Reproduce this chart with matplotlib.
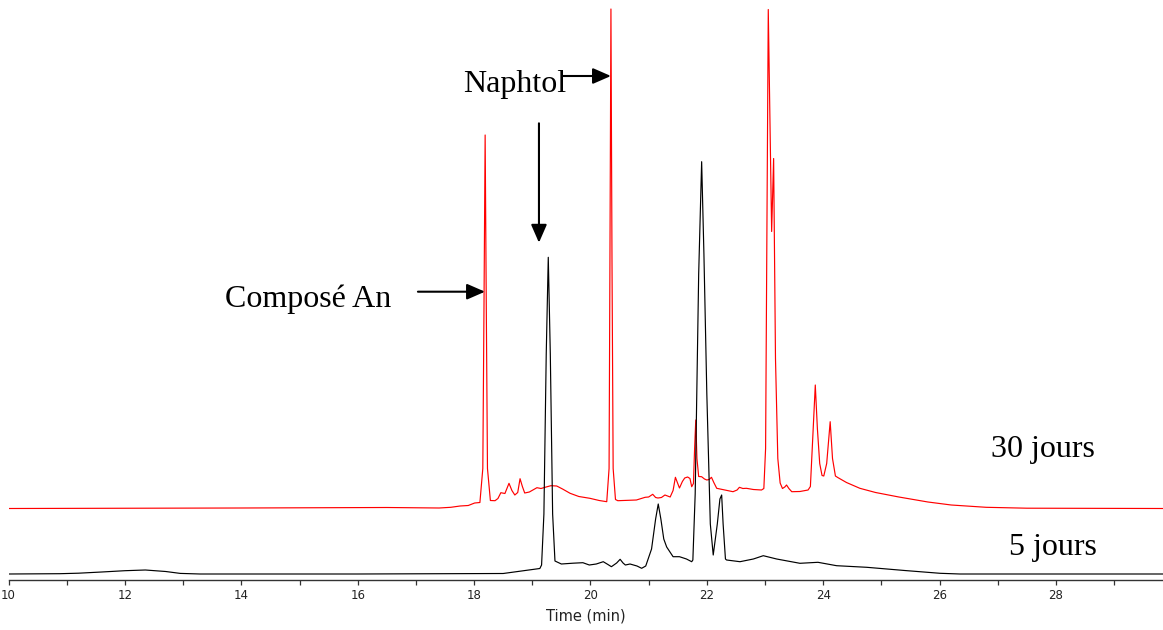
import matplotlib
matplotlib.use("Agg")
import matplotlib.pyplot as plt

# ---------------- data ----------------
# 30 jours (red trace): retention time (min) and signal (a.u.)
t_30 = [10.00, 14.00, 16.50, 17.40, 17.60, 17.76, 17.90, 18.01, 18.10, 18.15,
        18.17, 18.19, 18.21, 18.23, 18.28, 18.36, 18.41, 18.46, 18.53, 18.60,
        18.65, 18.70, 18.75, 18.79, 18.83, 18.87, 18.95, 19.08, 19.15, 19.22,
        19.32, 19.42, 19.52, 19.65, 19.80, 19.99, 20.15, 20.28, 20.32, 20.335,
        20.352, 20.37, 20.39, 20.43, 20.47, 20.79, 20.94, 21.00, 21.07, 21.12,
        21.16, 21.22, 21.28, 21.37, 21.42, 21.46, 21.50, 21.53, 21.58, 21.62,
        21.67, 21.71, 21.74, 21.77, 21.79, 21.81, 21.83, 21.86, 21.91, 21.96,
        22.00, 22.04, 22.08, 22.12, 22.17, 22.31, 22.45, 22.52, 22.56, 22.62,
        22.68, 22.80, 22.94, 22.98, 23.01, 23.035, 23.056, 23.10, 23.114, 23.148,
        23.18, 23.22, 23.26, 23.30, 23.34, 23.37, 23.41, 23.46, 23.60, 23.74,
        23.78, 23.82, 23.864, 23.90, 23.94, 23.98, 24.01, 24.06, 24.12, 24.16,
        24.21, 24.25, 24.40, 24.63, 24.90, 25.30, 25.80, 26.20, 26.80, 27.50,
        29.84]
s_30 = [0.0, 0.5, 1.0, 0.5, 1.2, 2.5, 3.0, 5.5, 6.0, 40.0,
        200.0, 373.5, 200.0, 40.0, 8.0, 7.8, 10.0, 15.8, 15.0, 25.2,
        18.0, 13.5, 16.0, 29.8, 22.0, 15.5, 16.5, 20.8, 20.0, 21.2,
        22.8, 22.5, 19.5, 15.2, 12.0, 10.2, 8.0, 6.8, 40.0, 250.0,
        499.5, 250.0, 40.0, 9.0, 7.8, 8.5, 11.2, 11.5, 14.2, 11.0,
        10.5, 11.0, 13.5, 11.5, 18.0, 31.2, 25.0, 20.5, 27.0, 30.5,
        31.5, 30.0, 21.8, 25.0, 60.0, 88.5, 50.0, 32.0, 31.8, 29.5,
        28.5, 29.0, 31.2, 26.0, 20.2, 18.5, 16.8, 18.5, 21.2, 20.0,
        20.2, 19.0, 18.5, 20.0, 60.0, 300.0, 499.0, 330.0, 277.0, 350.0,
        150.0, 50.0, 25.5, 20.0, 21.5, 23.5, 20.0, 16.8, 17.0, 18.5,
        22.0, 70.0, 123.5, 80.0, 45.0, 33.0, 32.5, 45.0, 86.8, 50.0,
        32.5, 31.0, 26.0, 20.2, 16.0, 11.5, 6.5, 3.5, 1.2, 0.3,
        0.0]

# 5 jours (black trace)
t_5 = [10.00, 10.88, 11.20, 11.60, 12.00, 12.35, 12.70, 12.95, 13.29, 16.00,
       18.50, 19.13, 19.16, 19.20, 19.24, 19.275, 19.31, 19.35, 19.39, 19.50,
       19.70, 19.87, 19.98, 20.10, 20.22, 20.30, 20.36, 20.45, 20.51, 20.56,
       20.60, 20.68, 20.80, 20.88, 20.95, 21.05, 21.12, 21.165, 21.21, 21.26,
       21.31, 21.42, 21.53, 21.65, 21.74, 21.76, 21.80, 21.86, 21.911, 21.95,
       22.00, 22.06, 22.11, 22.18, 22.225, 22.255, 22.28, 22.32, 22.34, 22.57,
       22.80, 22.97, 23.20, 23.60, 23.91, 24.23, 24.75, 25.40, 26.01, 26.35,
       29.84]
s_5 = [0.0, 0.3, 0.8, 2.0, 3.3, 4.0, 2.5, 0.6, 0.0, 0.0,
       0.5, 5.5, 9.0, 60.0, 220.0, 316.7, 220.0, 60.0, 13.0, 10.0,
       10.8, 11.3, 9.0, 10.0, 12.3, 9.5, 7.3, 11.0, 14.7, 11.0,
       9.0, 10.0, 8.0, 5.7, 8.0, 25.0, 55.0, 70.0, 55.0, 35.0,
       27.0, 17.3, 17.3, 15.0, 12.3, 14.0, 80.0, 300.0, 412.3, 320.0,
       180.0, 50.0, 19.0, 50.0, 75.0, 79.0, 50.0, 15.0, 14.0, 12.3,
       15.0, 18.3, 15.0, 10.7, 11.7, 8.3, 6.7, 3.5, 0.7, 0.0,
       0.0]

major_ticks = [10, 12, 14, 16, 18, 20, 22, 24, 26, 28]
minor_ticks = [11, 13, 15, 17, 19, 21, 23, 25, 27, 29]
tick_labels = [str(v) for v in major_ticks]

# ---------------- figure ----------------
W, H = 1163, 630
fig = plt.figure(figsize=(W / 100, H / 100), dpi=100)
ax = fig.add_axes([8.6 / W, 50 / H, 1 - 8.6 / W, 580 / H])

off_30 = 71.5
off_5 = 6.0
ax.plot(t_30, [v + off_30 for v in s_30], color="#ff0000", lw=0.85,
        solid_joinstyle="round")
ax.plot(t_5, [v + off_5 for v in s_5], color="black", lw=0.85,
        solid_joinstyle="round")

ax.set_xlim(10, 29.84)
ax.set_ylim(0, 580)

for side in ("top", "left", "right"):
    ax.spines[side].set_visible(False)
ax.spines["bottom"].set_color("#333333")
ax.spines["bottom"].set_linewidth(1.0)
ax.set_yticks([])
ax.set_xticks(major_ticks)
ax.set_xticklabels(tick_labels)
ax.set_xticks(minor_ticks, minor=True)
ax.tick_params(axis="x", which="both", direction="out", length=3.6,
               width=0.9, color="#333333", labelsize=8.5, pad=3,
               labelcolor="#222222")
ax.set_xlabel("Time (min)", fontsize=10.5, labelpad=4.5, color="#222222")

serif = ["Liberation Serif", "DejaVu Serif"]
fs = 23
ax.text(17.81, 488.3, "Naphtol", family=serif, fontsize=fs,
        ha="left", va="baseline")
ax.text(13.72, 273.3, "Composé An", family=serif, fontsize=fs,
        ha="left", va="baseline")
ax.text(28.67, 123.3, "30 jours", family=serif, fontsize=fs,
        ha="right", va="baseline")
ax.text(28.70, 25.0, "5 jours", family=serif, fontsize=fs,
        ha="right", va="baseline")

arrow = dict(arrowstyle="-|>,head_length=0.55,head_width=0.24", lw=1.5,
             color="black", shrinkA=0, shrinkB=0, mutation_scale=20)
ax.annotate("", xy=(20.352, 504), xytext=(19.532, 504), arrowprops=arrow)
ax.annotate("", xy=(19.115, 337.3), xytext=(19.115, 456.7), arrowprops=arrow)
ax.annotate("", xy=(18.187, 288.3), xytext=(17.035, 288.3), arrowprops=arrow)

fig.savefig("out.png", dpi=100)
